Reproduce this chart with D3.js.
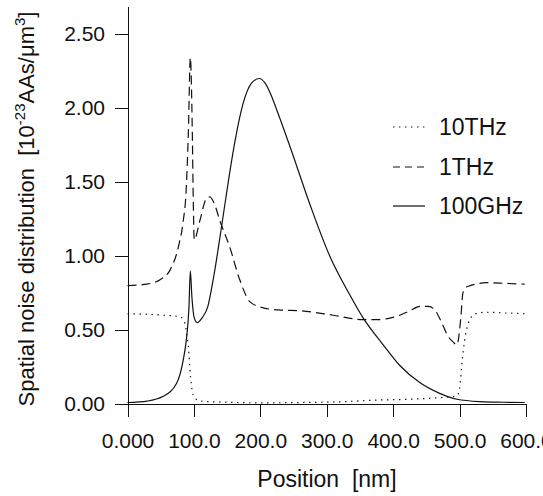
<!DOCTYPE html>
<html>
<head>
<meta charset="utf-8">
<script src="https://cdn.jsdelivr.net/npm/d3@7"></script>
<style>
  html, body { margin: 0; padding: 0; background: #fff; }
  svg { display: block; font-family: "Liberation Sans", Arial, Helvetica, sans-serif; }
  .axis path, .axis line { stroke: #111; stroke-width: 1; shape-rendering: crispEdges; }
  .axis text { font-size: 21px; fill: #111; }
  .curve { fill: none; stroke: #111; stroke-width: 1.2; }
</style>
</head>
<body>
<div id="chart"></div>
<script>
// tick values and labels
const xTicks = [0, 100, 200, 300, 400, 500, 600];
const xTickLabels = ['0.000', '100.0', '200.0', '300.0', '400.0', '500.0', '600.0'];
const yTicks = [0, 0.5, 1, 1.5, 2, 2.5];
const yTickLabels = ['0.00', '0.50', '1.00', '1.50', '2.00', '2.50'];

const seriesNames = ['10THz', '1THz', '100GHz'];

// 10THz (dotted)
const pos10THz = [0, 54, 79, 84, 86.6, 89, 91.6, 95, 99, 104, 109, 150, 200, 260, 320, 380, 410, 440, 470, 495, 499, 501, 503, 505.6, 509, 513, 518, 523, 541, 570, 598];
const val10THz = [0.61, 0.60, 0.59, 0.57, 0.545, 0.48, 0.39, 0.18, 0.06, 0.03, 0.02, 0.012, 0.008, 0.01, 0.015, 0.027, 0.03, 0.035, 0.043, 0.054, 0.08, 0.14, 0.25, 0.36, 0.47, 0.545, 0.59, 0.61, 0.62, 0.615, 0.61];

// 1THz (dashed)
const pos1THz = [0, 29, 49, 64, 76.5, 84, 88, 91.6, 94.6, 97.6, 99, 100.5, 109, 119, 124, 131, 139, 154, 169, 184.5, 204.5, 230, 260, 310, 355, 375, 395, 410, 425, 440, 453, 462, 471, 483, 490, 496, 502, 505, 510, 516, 541, 570, 598];
const val1THz = [0.80, 0.81, 0.84, 0.905, 1.06, 1.24, 1.42, 1.83, 2.34, 1.83, 1.38, 1.11, 1.24, 1.39, 1.40, 1.35, 1.24, 1.06, 0.84, 0.69, 0.65, 0.635, 0.63, 0.60, 0.57, 0.57, 0.58, 0.60, 0.63, 0.66, 0.66, 0.64, 0.57, 0.455, 0.42, 0.40, 0.59, 0.75, 0.79, 0.80, 0.82, 0.815, 0.81];

// 100GHz (solid)
const pos100GHz = [0, 30, 53, 74, 84, 89, 92.5, 94.6, 97, 100.6, 105, 112, 121, 129, 142, 152, 162, 174, 187, 198.5, 207, 215, 227, 245, 275, 305, 335, 355, 385, 410, 440, 470, 496, 531, 565, 598];
const val100GHz = [0.01, 0.02, 0.05, 0.14, 0.30, 0.45, 0.65, 0.90, 0.72, 0.58, 0.55, 0.58, 0.66, 0.84, 1.21, 1.51, 1.78, 2.03, 2.17, 2.20, 2.17, 2.10, 1.96, 1.735, 1.345, 0.995, 0.735, 0.58, 0.40, 0.26, 0.145, 0.072, 0.032, 0.016, 0.012, 0.01];

const W = 543, H = 496;

const svg = d3.select('#chart')
  .append('svg')
  .attr('width', W)
  .attr('height', H);

const x = d3.scaleLinear().domain([0, 600]).range([127.5, 526]);
const y = d3.scaleLinear().domain([0, 2.69]).range([404, 6]);

const xAxis = d3.axisBottom(x)
  .tickValues(xTicks)
  .tickFormat((d, i) => xTickLabels[i])
  .tickSizeInner(13)
  .tickSizeOuter(0)
  .tickPadding(16);

const yAxis = d3.axisLeft(y)
  .tickValues(yTicks)
  .tickFormat((d, i) => yTickLabels[i])
  .tickSizeInner(13)
  .tickSizeOuter(0)
  .tickPadding(10);

svg.append('g')
  .attr('class', 'axis axis-x')
  .attr('transform', 'translate(0,404)')
  .call(xAxis);

svg.append('g')
  .attr('class', 'axis axis-y')
  .attr('transform', 'translate(128,0)')
  .call(yAxis);

const series = [
  { name: seriesNames[0], pos: pos10THz, val: val10THz, dash: '1.4,4.6', legendDash: '1.4,4.6' },
  { name: seriesNames[1], pos: pos1THz, val: val1THz, dash: '9,5', legendDash: '7,5' },
  { name: seriesNames[2], pos: pos100GHz, val: val100GHz, dash: null, legendDash: null }
];

const line = d3.line()
  .x(d => x(d[0]))
  .y(d => y(d[1]))
  .curve(d3.curveMonotoneX);

series.forEach(s => {
  svg.append('path')
    .attr('class', 'curve')
    .attr('d', line(s.pos.map((p, i) => [p, s.val[i]])))
    .attr('stroke-dasharray', s.dash);
});

// legend
const legendY = [127, 167, 206];
const legend = svg.append('g').attr('class', 'legend');
series.forEach((s, i) => {
  legend.append('line')
    .attr('x1', 393)
    .attr('x2', 425)
    .attr('y1', legendY[i])
    .attr('y2', legendY[i])
    .attr('stroke', '#111')
    .attr('stroke-width', 1.2)
    .attr('stroke-dasharray', s.legendDash);
  legend.append('text')
    .attr('x', 439)
    .attr('y', legendY[i] + 8)
    .attr('font-size', 23)
    .attr('fill', '#111')
    .text(s.name);
});

// axis titles
svg.append('text')
  .attr('x', 327)
  .attr('y', 487)
  .attr('text-anchor', 'middle')
  .attr('font-size', 23)
  .attr('fill', '#111')
  .attr('xml:space', 'preserve')
  .text('Position  [nm]');

const yTitle = svg.append('text')
  .attr('transform', 'translate(34,209) rotate(-90)')
  .attr('text-anchor', 'middle')
  .attr('font-size', 22)
  .attr('fill', '#111')
  .attr('xml:space', 'preserve');

yTitle.append('tspan').text('Spatial noise distribution  [10');
yTitle.append('tspan').attr('font-size', 15).attr('dy', -9).text('-23');
yTitle.append('tspan').attr('dy', 9).text('AAs/\u03bcm');
yTitle.append('tspan').attr('font-size', 15).attr('dy', -9).text('3');
yTitle.append('tspan').attr('dy', 9).text(']');
</script>
</body>
</html>
